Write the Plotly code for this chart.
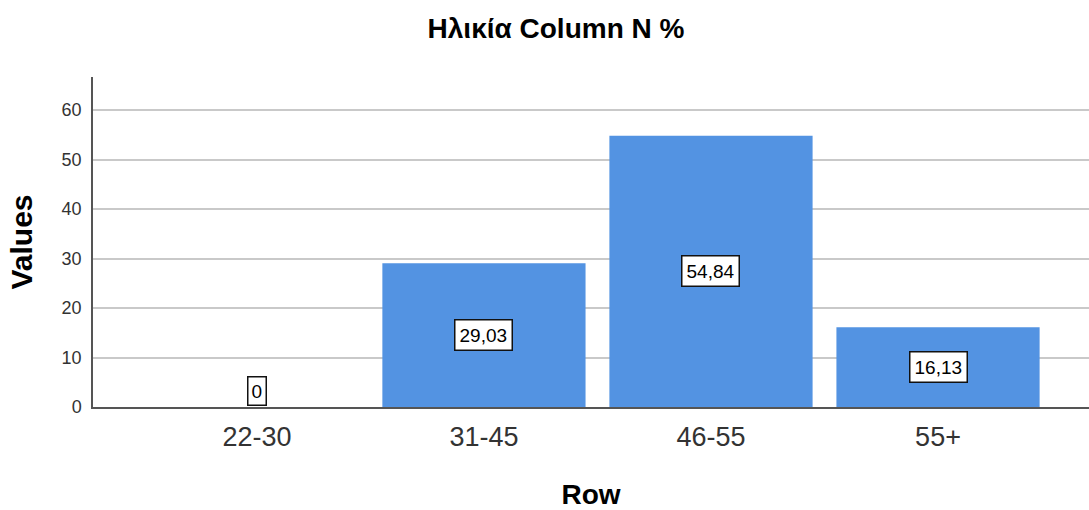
import plotly.graph_objects as go

# Age groups and their column percentages
categories = ["22-30", "31-45", "46-55", "55+"]
values = [0, 29.03, 54.84, 16.13]
value_labels = ["0", "29,03", "54,84", "16,13"]

BAR_COLOR = "#5393E2"
FONT = "Liberation Sans, Arial, sans-serif"

fig = go.Figure()
fig.add_trace(go.Bar(
    x=categories,
    y=values,
    width=0.895,
    marker=dict(color=BAR_COLOR, line=dict(width=0)),
    hoverinfo="skip",
))

# Boxed value labels placed in the middle of each bar
px_per_unit = (407 - 110) / 60.0
for cat, val, lab in zip(categories, values, value_labels):
    half_px = val * px_per_unit / 2
    common = dict(x=cat, text=lab, showarrow=False,
                  font=dict(family=FONT, size=19, color="#000"),
                  bgcolor="white", bordercolor="#111", borderwidth=1.5)
    if half_px < 20:
        fig.add_annotation(y=0, yanchor="bottom", yshift=1, borderpad=3, **common)
    else:
        fig.add_annotation(y=val / 2, yanchor="middle", borderpad=4, **common)

fig.update_layout(
    width=1089, height=510,
    margin=dict(l=93, r=0, t=77, b=103),
    paper_bgcolor="white", plot_bgcolor="white",
    showlegend=False,
    title=dict(text="<b>Ηλικία Column N %</b>", x=556 / 1089, xanchor="center",
               xref="container", y=1 - 28 / 510, yref="container", yanchor="middle",
               font=dict(family=FONT, size=28, color="#000")),
    font=dict(family=FONT),
)

fig.update_xaxes(
    range=[-0.722, 3.665],
    showline=True, linecolor="#555", linewidth=1.5,
    showgrid=False, ticks="", ticklen=0, ticklabelstandoff=5,
    tickfont=dict(family=FONT, size=27, color="#333"),
    title=dict(text="<b>Row</b>", font=dict(family=FONT, size=28, color="#000"), standoff=38),
)
fig.update_yaxes(
    range=[0, 66.7], tickvals=[0, 10, 20, 30, 40, 50, 60],
    showline=True, linecolor="#555", linewidth=1.5,
    showgrid=True, gridcolor="#c9c9c9", gridwidth=2,
    zeroline=False, ticks="", ticklen=0, ticklabelstandoff=6,
    tickfont=dict(family=FONT, size=18, color="#333"),
    title=dict(text="<b>Values</b>", font=dict(family=FONT, size=30, color="#000"), standoff=20),
)

fig.write_html("out.html")
